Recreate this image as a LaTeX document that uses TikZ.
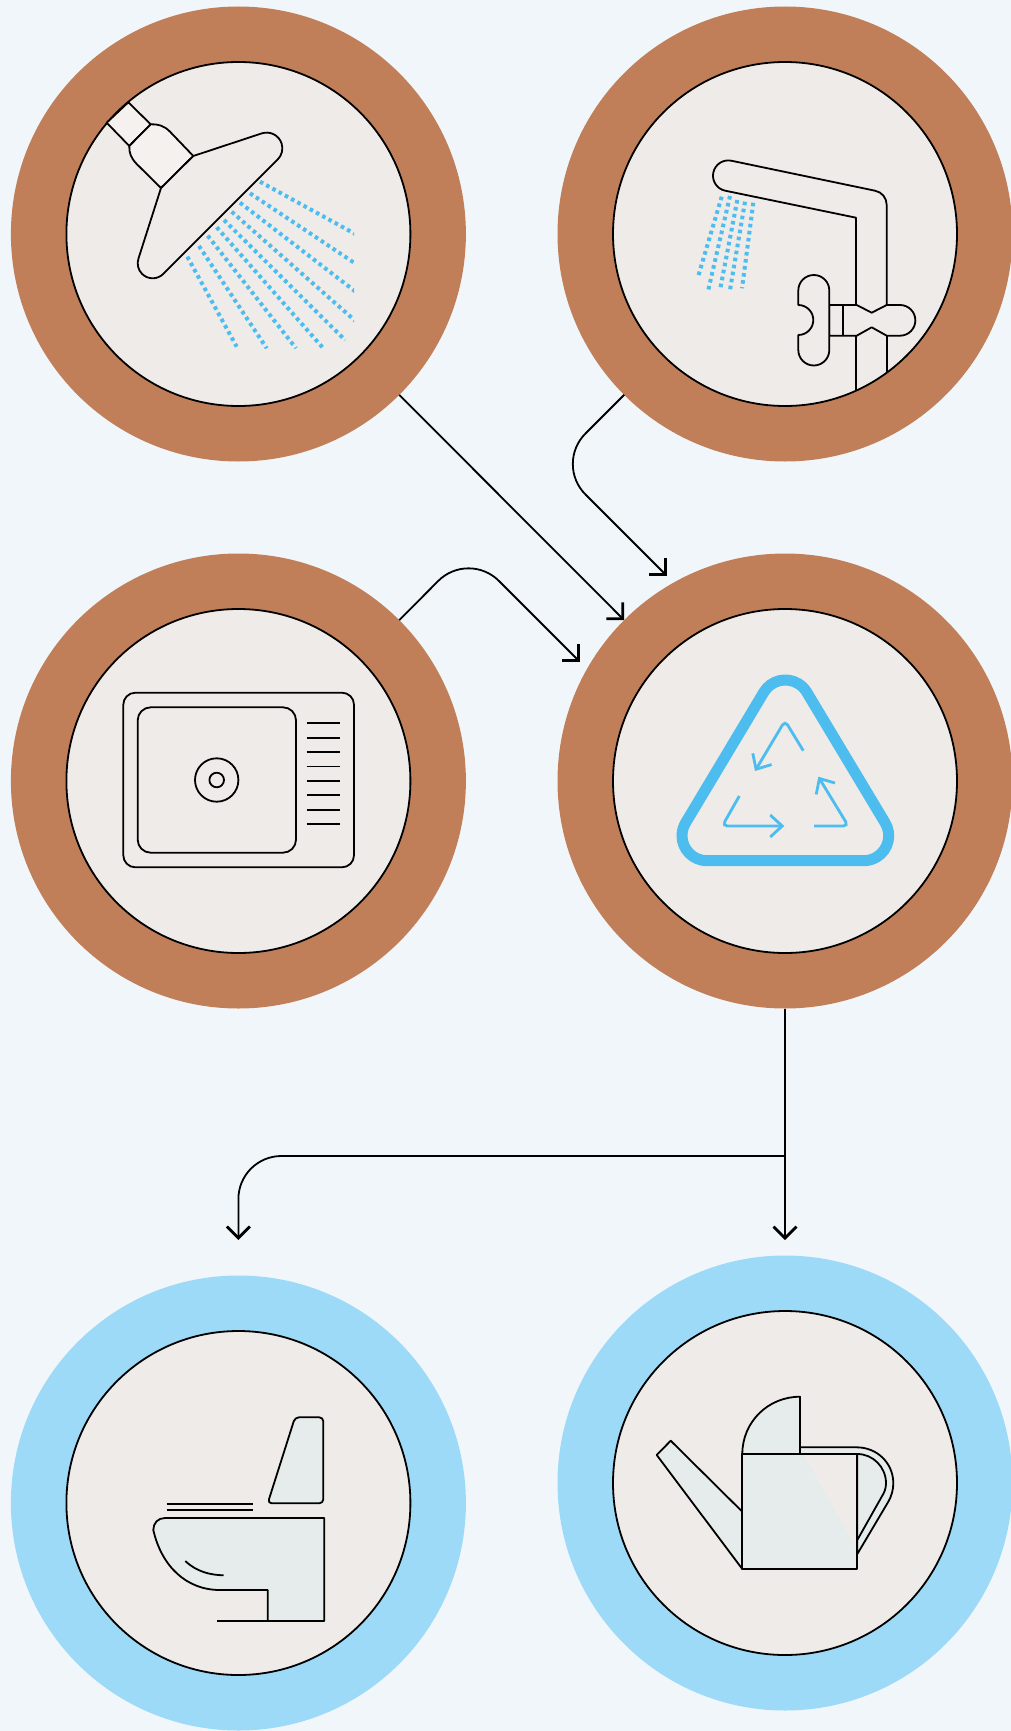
\documentclass[tikz,border=0pt]{standalone}
\usetikzlibrary{arrows.meta}
\definecolor{bgc}{HTML}{F1F6FA}
\definecolor{brownc}{HTML}{C17F59}
\definecolor{skyc}{HTML}{9CDAF8}
\definecolor{discc}{HTML}{EFEBE8}
\definecolor{waterc}{HTML}{4DBCEE}
\definecolor{potc}{HTML}{E6ECEB}
\tikzset{ring/.style={circle,minimum size=455pt,inner sep=0pt,outer sep=0pt},
 disc/.style={circle,draw,line width=1.8pt,fill=discc,minimum size=344pt,inner sep=0pt,outer sep=0pt},
 ln/.style={line width=1.8pt,line join=round},
 pot/.style={ln,fill=potc},
 drops/.style={waterc,line width=4pt,dash pattern=on 3.6pt off 3.5pt},
 ar/.style={line width=1.8pt,-{Straight Barb[length=11.5pt,width=23pt,line width=2.8pt]}},
 rcl/.style={waterc,line width=2.8pt,rounded corners=5pt,-{Straight Barb[length=12pt,width=22pt,line width=2.8pt]}}}
\begin{document}
\begin{tikzpicture}[x=1pt,y=-1pt]
\useasboundingbox (0,0) rectangle (1011,1731);
\fill[bgc] (0,0) rectangle (1011,1731);
\node[ring,fill=brownc](shower) at (238.4,234){};
\node[ring,fill=brownc](tap) at (785,234){};
\node[ring,fill=brownc](sink) at (238.4,781){};
\node[ring,fill=brownc](rec) at (785,781){};
\node[ring,fill=skyc](toilet) at (238.4,1503){};
\node[ring,fill=skyc](can) at (785,1483){};
\node[disc](showerin) at (shower){};\node[disc](tapin) at (tap){};
\node[disc](sinkin) at (sink){};\node[disc](recin) at (rec){};
\node[disc](toiletin) at (toilet){};\node[disc](canin) at (can){};
\coordinate (b1) at (555,464);\coordinate (e1) at (667,576);
\coordinate (b2) at (468.5,550.5);\coordinate (e2) at (580,662);
\coordinate (split) at (785,1156);\coordinate (b3) at (238.4,1156);
\coordinate (e3) at (238.4,1240);\coordinate (e4) at (785,1240);
\draw[ar](shower.-45)--(rec.135);
\draw[ar,rounded corners=43pt](tap.-135)--(b1)--(e1);
\draw[ar,rounded corners=43pt](sink.45)--(b2)--(e2);
\draw[ar](rec.south)--(e4);
\draw[ar,rounded corners=43pt](split)--(b3)--(e3);
% shower
\begin{scope}
\clip (175,175) rectangle (354,348);
\foreach \a/\b/\c/\d in {260/181.7/356/234.4,250/193.3/356/264,240/202.7/356/292,231.7/211.7/356/321.5,224/220/345/340,216.7/227.3/323.3/348.3,207.7/235.7/296/348.3,199/246/266.7/348.3,187.3/256.7/236.7/346.7}
 \draw[drops](\a,\b)--(\c,\d);
\end{scope}
\draw[ln,fill=discc!70!white](106.7,122.7)--(128.3,102.3)--(150.7,124.3)--(129.3,146)--cycle;
\draw[ln,fill=discc!70!white](150.7,124.3)..controls (158,124) and (164,125.5)..(170,131.7)--(193.3,156)--(161,188)--(136.7,164)..controls (131,158) and (129,153)..(129.3,146)--cycle;
\draw[ln,fill=discc](193.3,156)--(261.7,133.4) arc[start angle=108.4,end angle=-45,radius=15.7pt]--(163.3,273.9) arc[start angle=-45,end angle=-198.3,radius=15pt]--(161,188)--cycle;
% tap
\foreach \a/\b/\c/\d in {721.7/196.7/698.3/276,730/196/708.3/290,737.3/200/720/290,745/201.7/730/290,753.3/202.7/742/288.3}
 \draw[drops](\a,\b)--(\c,\d);
\begin{scope}
\clip (tapin) circle (172pt);
\draw[ln](856,335)--(856,420) (886.7,335)--(886.7,420);
\end{scope}
\draw[ln,fill=discc](856,305.5)--(856,217.7)--(725.2,190.7) arc[start angle=258.4,end angle=78.4,radius=15.3pt]--(875,190.7)..controls (882,192) and (886.7,198)..(886.7,205)--(886.7,305.5);
\draw[ln,fill=discc](829.3,305)--(856.7,305)--(871.7,312.7)--(886.7,305)--(900,305) arc[start angle=90,end angle=-90,radius=15.35pt]--(886.7,335.7)--(871.7,327.3)--(856.7,335.7)--(829.3,335.7)--cycle;
\draw[ln](842.7,305)--(842.7,335.7);
\draw[ln,fill=discc](798.3,305)--(798.3,290.5) arc[start angle=180,end angle=0,radius=15.5pt]--(829.3,350) arc[start angle=0,end angle=-180,radius=15.5pt]--(798.3,335) arc[start angle=-90,end angle=90,radius=15pt]--cycle;
% sink
\draw[ln,rounded corners=12pt](123.3,692.7) rectangle (354,867.3);
\draw[ln,rounded corners=13pt](137.7,707.3) rectangle (296,852.7);
\draw[ln](216.7,780) circle (21.7pt) (216.7,780) circle (7.3pt);
\foreach \y in {0,...,7} \draw[ln](306.7,723.3+14.4*\y)--(340,723.3+14.4*\y);
% recycle sign
\draw[waterc,line width=11pt](764.03,691.86) arc[start angle=148.3,end angle=31.7,radius=25pt]--(884.97,822.56) arc[start angle=31.7,end angle=-90,radius=25pt]--(707,860.7) arc[start angle=270,end angle=148.3,radius=25pt]--cycle;
\draw[rcl](803.3,750.7)--(785,720.7)--(755,771);
\draw[rcl](739.3,796)--(722.3,826)--(784.3,826);
\draw[rcl](814,826)--(848.3,826)--(818.3,776.7);
% toilet
\draw[pot,rounded corners=4pt](295,1417.3)--(323.3,1417.3)--(323.3,1503.3)--(267.7,1503.3)--cycle;
\draw[ln](166.7,1503.7)--(252.7,1503.7) (166.7,1509.7)--(252.7,1509.7);
\draw[pot](165,1518)--(324.3,1518)--(324.3,1621)--(267.7,1621)--(267.7,1590)--(220,1590)..controls (186.7,1590) and (161.7,1566.7)..(153.3,1530)..controls (153.3,1523) and (158,1518)..(165,1518)--cycle;
\draw[ln](217.3,1621)--(267.7,1621);
\draw[ln](185.3,1561)..controls (196.7,1571.7) and (210,1575)..(223.7,1575.3);
% watering can
\draw[pot](800,1447.3)--(856.7,1447.3)..controls (877,1447.3) and (893.3,1463)..(893.3,1483.3)..controls (893.3,1490) and (891.5,1496)..(888.3,1501.7)--(857.3,1554)--(857.3,1454)--(800,1454)--cycle;
\draw[ln](857.3,1454)..controls (873,1454) and (886,1467)..(886,1483.3)..controls (886,1488) and (884.5,1492.5)..(881.7,1496.7)--(857.3,1540);
\draw[pot](742.3,1511.7)--(670.7,1440.7)--(656.7,1455)--(742.3,1569)--cycle;
\fill[potc](742.3,1454) rectangle (857.3,1569);
\fill[discc](803.3,1454)--(857.3,1454)--(857.3,1550)--cycle;
\draw[ln](742.3,1454) rectangle (857.3,1569);
\draw[pot](742.3,1454)..controls (742.3,1422) and (768,1396.7)..(800,1396.7)--(800,1454)--cycle;
\end{tikzpicture}
\end{document}
